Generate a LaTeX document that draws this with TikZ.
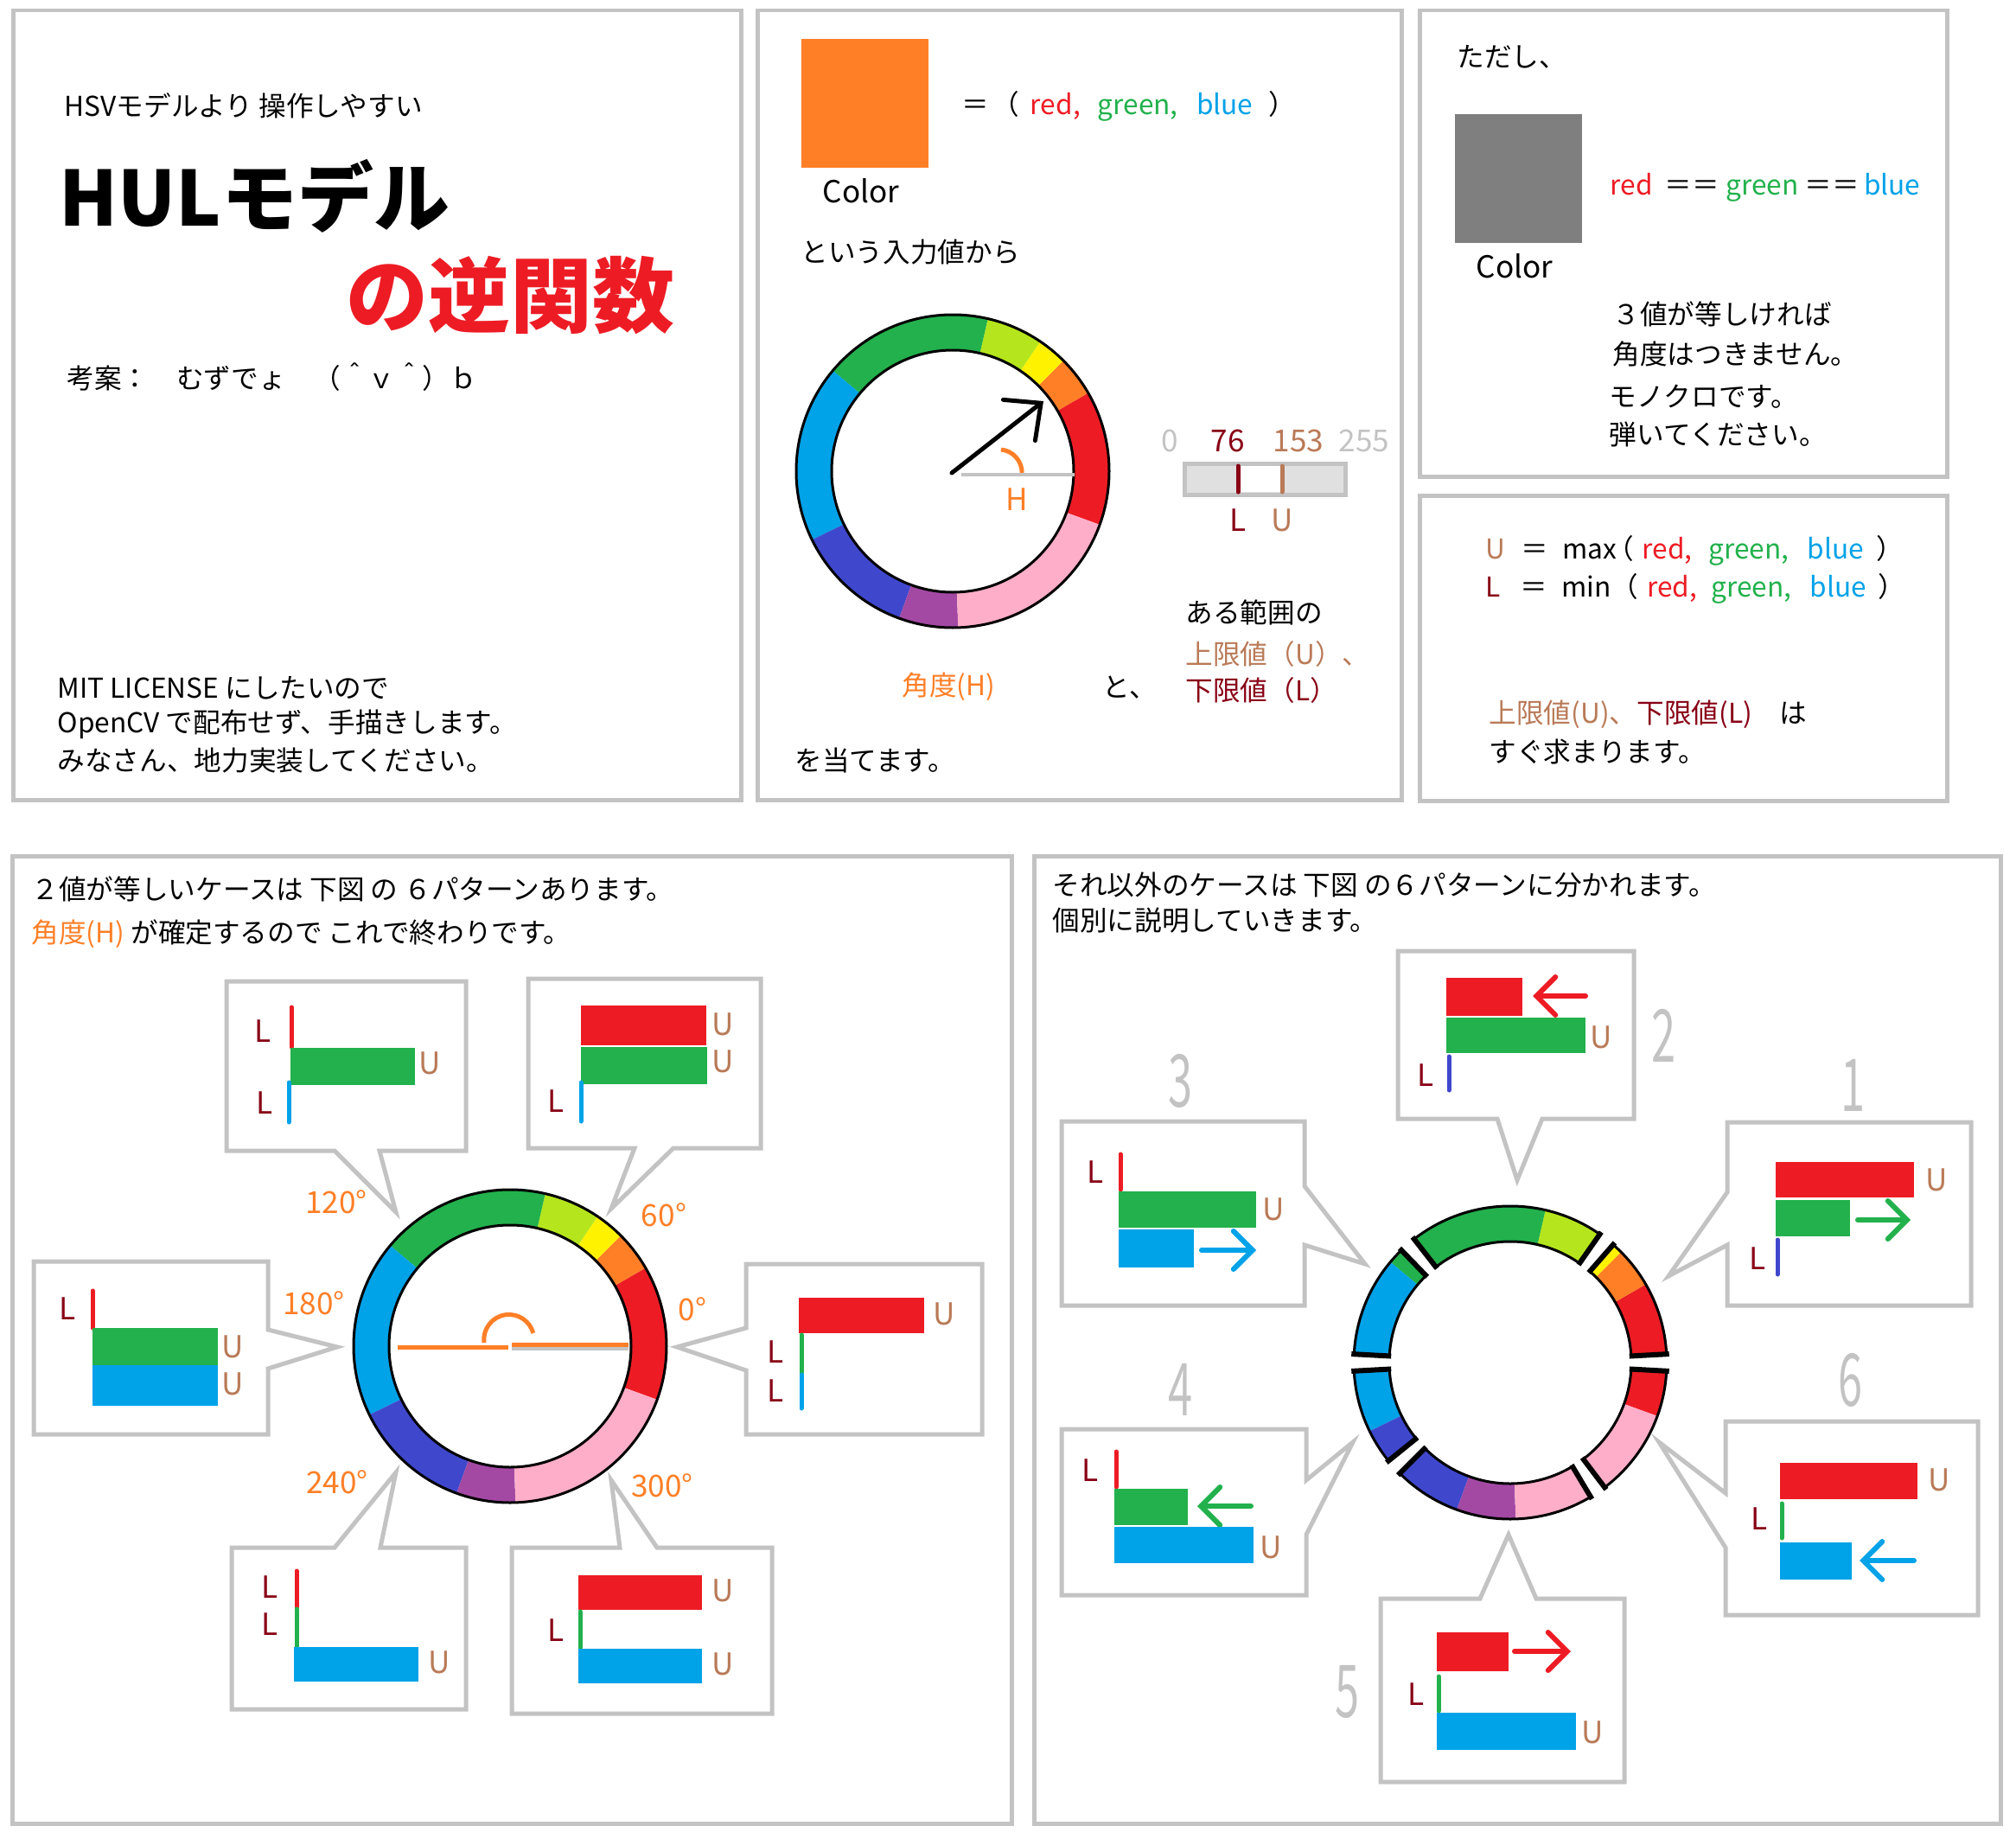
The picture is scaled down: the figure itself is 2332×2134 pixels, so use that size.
\documentclass[tikz,border=0pt]{standalone}
\usepackage{fontspec}
\setmainfont{Noto Sans CJK JP}
\usepackage{tikz}
\usetikzlibrary{arrows.meta}

\definecolor{pred}{HTML}{ED1C24}
\definecolor{porange}{HTML}{FF7F27}
\definecolor{pyellow}{HTML}{FFF200}
\definecolor{plime}{HTML}{B5E61D}
\definecolor{pgreen}{HTML}{22B14C}
\definecolor{pblue}{HTML}{00A2E8}
\definecolor{pindigo}{HTML}{3F48CC}
\definecolor{ppurple}{HTML}{A349A4}
\definecolor{ppink}{HTML}{FFAEC9}
\definecolor{ldark}{HTML}{880015}
\definecolor{ubrown}{HTML}{B97A57}
\definecolor{frame}{HTML}{C3C3C3}
\definecolor{mono}{HTML}{7F7F7F}

\begin{document}
\begin{tikzpicture}[
  x=0.1mm, y=-0.1mm,
  panel/.style={draw=frame,line width=0.5mm},
  balloon/.style={draw=frame,fill=white,line width=0.5mm},
  txt/.style={anchor=west,inner sep=0pt,font=\fontsize{9}{11}\selectfont},
  lbl/.style={inner sep=0pt,font=\fontsize{10}{12}\selectfont},
  lmark/.style={lbl,text=ldark},
  umark/.style={lbl,text=ubrown},
  deg/.style={lbl,text=porange},
  num/.style={inner sep=0pt,text=frame,font=\fontsize{24}{28}\selectfont},
  tick/.style={line width=0.5mm,line cap=round},
  move/.style={line width=0.6mm,line cap=round,-{Straight Barb[length=2.2mm,width=4.4mm,line cap=round]}},
  huering/.pic={
    \begin{scope}[yscale=-1]
      \foreach \a/\b/\col in {-20/30/pred,30/45/porange,45/56/pyellow,56/77/plime,77/140/pgreen,
                              140/206/pblue,206/250/pindigo,250/272/ppurple,272/340/ppink}
        \fill[\col] (\a:140) arc[start angle=\a,end angle=\b,radius=140]
          -- (\b:181) arc[start angle=\b,end angle=\a,radius=181] -- cycle;
      \draw[line width=0.3mm] (0,0) circle[radius=181] (0,0) circle[radius=140];
    \end{scope}
  },
]
  \useasboundingbox (0,0) rectangle (2332,2134);

  % panels
  \draw[panel] (15,12) rectangle (857,925);
  \draw[panel] (876,12) rectangle (1621,925);
  \draw[panel] (1642,12) rectangle (2252,551);
  \draw[panel] (1642,573) rectangle (2252,926);
  \draw[panel] (14,990) rectangle (1170,2109);
  \draw[panel] (1196,990) rectangle (2314,2109);

  % title
  \node[txt] (sub) at (74,122) {HSVモデルより 操作しやすい};
  \node[txt,font=\fontsize{25}{30}\selectfont\bfseries] (title) at (68,227) {HULモデル};
  \node[txt,text=pred,font=\fontsize{27}{32}\selectfont\bfseries] (inverse) at (400,342) {の逆関数};
  \node[txt] (author) at (77,436) {考案：　むずでょ　（＾ｖ＾）ｂ};
  \node[txt] (lic1) at (66,796) {MIT LICENSE にしたいので};
  \node[txt] (lic2) at (66,838) {OpenCV で配布せず、手描きします。};
  \node[txt] (lic3) at (66,880) {みなさん、地力実装してください。};

  % input colour and hue
  \fill[porange] (927,45) rectangle (1074,194);
  \node[lbl] (col1) at (996,221) {Color};
  \node[txt] (rgb1) at (1112,123) {＝\hspace{0.3mm}（\hspace{1.3mm}\textcolor{pred}{red,}\hspace{2mm}\textcolor{pgreen}{green,}\hspace{2.15mm}\textcolor{pblue}{blue}\hspace{1.85mm}）};
  \node[txt] (from) at (926,292) {という入力値から};
  \pic at (1102,545) {huering};
  \coordinate (hub) at (1101,547);
  \coordinate (hand) at (1207,464);
  \coordinate (zero) at (1243,549);
  \draw[frame,line width=0.4mm] (1112,549) -- (zero);
  \draw[porange,line width=0.5mm] (1158,520) arc[start angle=-84,end angle=0,radius=27];
  \draw[line width=0.5mm,line cap=round,-{Straight Barb[length=3.2mm,width=6mm,line cap=round]}] (hub) -- (hand);
  \node[lbl,text=porange] (h) at (1176,578) {H};
  \node[txt,text=porange] (hue) at (1043,794) {角度(H)};
  \node[txt] (and) at (1275,795) {と、};
  \node[txt] (guess) at (919,879) {を当てます。};

  % range bar
  \filldraw[fill=black!12,draw=frame,line width=0.5mm] (1370,536) rectangle (1556,572);
  \fill[white] (1432,539) rectangle (1483,569);
  \draw[tick,ldark] (1432,539) -- (1432,569);
  \draw[tick,ubrown] (1483,539) -- (1483,569);
  \node[lbl,text=frame] (v0) at (1353,510) {0};
  \node[lbl,text=ldark] (v76) at (1420,510) {76};
  \node[lbl,text=ubrown] (v153) at (1502,510) {153};
  \node[lbl,text=frame] (v255) at (1578,510) {255};
  \node[lmark] (barl) at (1432,602) {L};
  \node[umark] (baru) at (1483,602) {U};
  \node[txt] (range) at (1371,708) {ある範囲の};
  \node[txt,text=ubrown] (upper) at (1371,756) {上限値（U）、};
  \node[txt,text=ldark] (lower) at (1371,798) {下限値（L）};

  % monochrome
  \node[txt] (but) at (1685,66) {ただし、};
  \fill[mono] (1683,132) rectangle (1830,281);
  \node[lbl] (col2) at (1752,308) {Color};
  \node[txt] (same) at (1862,217) {\textcolor{pred}{red}\ \ ＝＝\ \textcolor{pgreen}{green}\ ＝＝\,\textcolor{pblue}{blue}};
  \node[txt] (m1) at (1865,363) {３値が等しければ};
  \node[txt] (m2) at (1865,410) {角度はつきません。};
  \node[txt] (m3) at (1861,459) {モノクロです。};
  \node[txt] (m4) at (1861,502) {弾いてください。};

  % max / min
  \node[txt] (umax) at (1718,637) {\textcolor{ubrown}{U}\hspace{1.8mm}＝\hspace{1.6mm}max\hspace{-1.2mm}（\hspace{1mm}\textcolor{pred}{red,}\hspace{1.9mm}\textcolor{pgreen}{green,}\hspace{2.15mm}\textcolor{pblue}{blue}\hspace{1.4mm}）};
  \node[txt] (lmin) at (1718,681) {\textcolor{ldark}{L}\hspace{2.3mm}＝\hspace{1.6mm}min（\hspace{1mm}\textcolor{pred}{red,}\hspace{1.6mm}\textcolor{pgreen}{green,}\hspace{2.15mm}\textcolor{pblue}{blue}\hspace{1.4mm}）};
  \node[txt] (soon1) at (1722,826) {\textcolor{ubrown}{上限値(U)、}\textcolor{ldark}{下限値(L)}　は};
  \node[txt] (soon2) at (1722,870) {すぐ求まります。};

  % two equal values
  \node[txt] (two1) at (36,1028) {２値が等しいケースは 下図 の ６パターンあります。};
  \node[txt] (two2) at (36,1080) {\textcolor{porange}{角度(H)} が確定するので これで終わりです。};
  \pic at (590,1557) {huering};
  \draw[porange,line width=0.5mm] (460,1558) -- (588,1558);
  \draw[frame,line width=0.5mm] (592,1559) -- (727,1559);
  \draw[porange,line width=0.5mm] (592,1555) -- (727,1555);
  \draw[porange,line width=0.5mm] (560,1553) arc[start angle=-187,end angle=-15,radius=29];
  \node[deg] (d120) at (389,1390) {120°};
  \node[deg] (d60) at (768,1405) {60°};
  \node[deg] (d180) at (363,1507) {180°};
  \node[deg] (d0) at (801,1514) {0°};
  \node[deg] (d240) at (390,1714) {240°};
  \node[deg] (d300) at (766,1718) {300°};

  \filldraw[balloon] (262,1135) -- (539,1135) -- (539,1331) -- (439,1331) -- (458,1402) -- (387,1331) -- (262,1331) -- cycle;
  \node[lmark] (a1) at (304,1193) {L};
  \draw[tick,pred] (337,1165) -- (337,1211);
  \fill[pgreen] (336,1212) rectangle (480,1255);
  \node[umark] (a2) at (497,1230) {U};
  \node[lmark] (a3) at (306,1276) {L};
  \draw[tick,pblue] (334,1252) -- (334,1298);

  \filldraw[balloon] (611,1132) -- (880,1132) -- (880,1328) -- (779,1328) -- (707,1398) -- (734,1328) -- (611,1328) -- cycle;
  \fill[pred] (672,1163) rectangle (817,1209);
  \fill[pgreen] (672,1211) rectangle (818,1254);
  \node[umark] (b1) at (836,1185) {U};
  \node[umark] (b2) at (836,1228) {U};
  \node[lmark] (b3) at (643,1274) {L};
  \draw[tick,pblue] (672,1252) -- (672,1297);

  \filldraw[balloon] (39,1459) -- (310,1459) -- (310,1538) -- (390,1558) -- (310,1583) -- (310,1659) -- (39,1659) -- cycle;
  \node[lmark] (c1) at (78,1514) {L};
  \draw[tick,pred] (107,1493) -- (107,1536);
  \fill[pgreen] (107,1536) rectangle (252,1579);
  \fill[pblue] (107,1579) rectangle (252,1626);
  \node[umark] (c2) at (269,1558) {U};
  \node[umark] (c3) at (269,1601) {U};

  \filldraw[balloon] (863,1462) -- (1136,1462) -- (1136,1659) -- (863,1659) -- (863,1585) -- (783,1558) -- (863,1536) -- cycle;
  \fill[pred] (924,1501) rectangle (1069,1542);
  \node[umark] (e1) at (1092,1520) {U};
  \node[lmark] (e2) at (897,1564) {L};
  \node[lmark] (e3) at (897,1609) {L};
  \draw[tick,pgreen] (927,1544) -- (927,1588);
  \draw[tick,pblue] (927,1590) -- (927,1629);

  \filldraw[balloon] (268,1790) -- (387,1790) -- (458,1703) -- (440,1790) -- (539,1790) -- (539,1977) -- (268,1977) -- cycle;
  \node[lmark] (f1) at (312,1836) {L};
  \node[lmark] (f2) at (312,1879) {L};
  \draw[tick,pred] (343,1817) -- (343,1859);
  \draw[tick,pgreen] (343,1861) -- (343,1905);
  \fill[pblue] (340,1905) rectangle (484,1945);
  \node[umark] (f3) at (508,1923) {U};

  \filldraw[balloon] (592,1790) -- (717,1790) -- (707,1712) -- (760,1790) -- (893,1790) -- (893,1982) -- (592,1982) -- cycle;
  \fill[pred] (669,1822) rectangle (812,1862);
  \node[umark] (g1) at (836,1840) {U};
  \node[lmark] (g2) at (643,1886) {L};
  \draw[tick,pgreen] (671,1864) -- (671,1906);
  \fill[pblue] (669,1907) rectangle (812,1947);
  \node[umark] (g3) at (836,1925) {U};

  % other cases
  \node[txt] (six1) at (1217,1024) {それ以外のケースは 下図 の６パターンに分かれます。};
  \node[txt] (six2) at (1217,1065) {個別に説明していきます。};
  \pic at (1747,1576) {huering};
  \begin{scope}[shift={(1747,1576)},yscale=-1]
    \foreach \t in {0,52,131,180,222,304}{
      \fill[white] (\t-2.4:132) -- (\t-2.4:190) -- (\t+2.4:190) -- (\t+2.4:132) -- cycle;
      \draw[line width=0.6mm] (\t-3.1:138) -- (\t-3.1:184) (\t+3.1:138) -- (\t+3.1:184);
    }
  \end{scope}
  \node[num] (n1) at (2144,1255) {\scalebox{0.6}[1]{1}};
  \node[num] (n2) at (1925,1198) {\scalebox{0.6}[1]{2}};
  \node[num] (n3) at (1366,1250) {\scalebox{0.6}[1]{3}};
  \node[num] (n4) at (1366,1607) {\scalebox{0.6}[1]{4}};
  \node[num] (n5) at (1559,1957) {\scalebox{0.6}[1]{5}};
  \node[num] (n6) at (2141,1596) {\scalebox{0.6}[1]{6}};

  % case 2
  \filldraw[balloon] (1617,1100) -- (1890,1100) -- (1890,1294) -- (1784,1294) -- (1755,1365) -- (1732,1294) -- (1617,1294) -- cycle;
  \fill[pred] (1673,1131) rectangle (1761,1175);
  \draw[move,pred] (1834,1152) -- (1773,1152);
  \fill[pgreen] (1673,1177) rectangle (1834,1218);
  \node[umark] (k1) at (1852,1200) {U};
  \node[lmark] (k2) at (1649,1244) {L};
  \draw[tick,pindigo] (1676,1222) -- (1676,1261);

  % case 1
  \filldraw[balloon] (1998,1298) -- (2280,1298) -- (2280,1510) -- (1998,1510) -- (1998,1440) -- (1930,1476) -- (1998,1379) -- cycle;
  \fill[pred] (2054,1344) rectangle (2214,1385);
  \node[umark] (j1) at (2240,1365) {U};
  \fill[pgreen] (2054,1388) rectangle (2140,1430);
  \draw[move,pgreen] (2149,1411) -- (2210,1411);
  \node[lmark] (j2) at (2033,1456) {L};
  \draw[tick,pindigo] (2056,1434) -- (2056,1474);

  % case 3
  \filldraw[balloon] (1228,1297) -- (1509,1297) -- (1509,1372) -- (1579,1462) -- (1509,1440) -- (1509,1510) -- (1228,1510) -- cycle;
  \node[lmark] (p1) at (1267,1356) {L};
  \draw[tick,pred] (1296,1335) -- (1296,1376);
  \fill[pgreen] (1294,1378) rectangle (1453,1420);
  \node[umark] (p2) at (1473,1399) {U};
  \fill[pblue] (1294,1422) rectangle (1381,1466);
  \draw[move,pblue] (1390,1446) -- (1453,1446);

  % case 4
  \filldraw[balloon] (1228,1653) -- (1511,1653) -- (1511,1712) -- (1565,1668) -- (1511,1775) -- (1511,1845) -- (1228,1845) -- cycle;
  \node[lmark] (q1) at (1261,1701) {L};
  \draw[tick,pred] (1291,1679) -- (1291,1720);
  \fill[pgreen] (1289,1722) rectangle (1374,1764);
  \draw[move,pgreen] (1447,1742) -- (1385,1742);
  \fill[pblue] (1289,1766) rectangle (1450,1808);
  \node[umark] (q2) at (1470,1790) {U};

  % case 6
  \filldraw[balloon] (1996,1644) -- (2288,1644) -- (2288,1868) -- (1996,1868) -- (1996,1790) -- (1919,1668) -- (1996,1727) -- cycle;
  \fill[pred] (2059,1692) rectangle (2218,1734);
  \node[umark] (s1) at (2243,1712) {U};
  \node[lmark] (s2) at (2035,1757) {L};
  \draw[tick,pgreen] (2061,1739) -- (2061,1779);
  \fill[pblue] (2059,1784) rectangle (2142,1827);
  \draw[move,pblue] (2214,1805) -- (2151,1805);

  % case 5
  \filldraw[balloon] (1597,1849) -- (1712,1849) -- (1745,1775) -- (1777,1849) -- (1879,1849) -- (1879,2061) -- (1597,2061) -- cycle;
  \fill[pred] (1662,1888) rectangle (1745,1933);
  \draw[move,pred] (1752,1910) -- (1817,1910);
  \node[lmark] (r1) at (1638,1960) {L};
  \draw[tick,pgreen] (1664,1939) -- (1664,1979);
  \fill[pblue] (1662,1981) rectangle (1823,2024);
  \node[umark] (r2) at (1842,2004) {U};
\end{tikzpicture}
\end{document}
